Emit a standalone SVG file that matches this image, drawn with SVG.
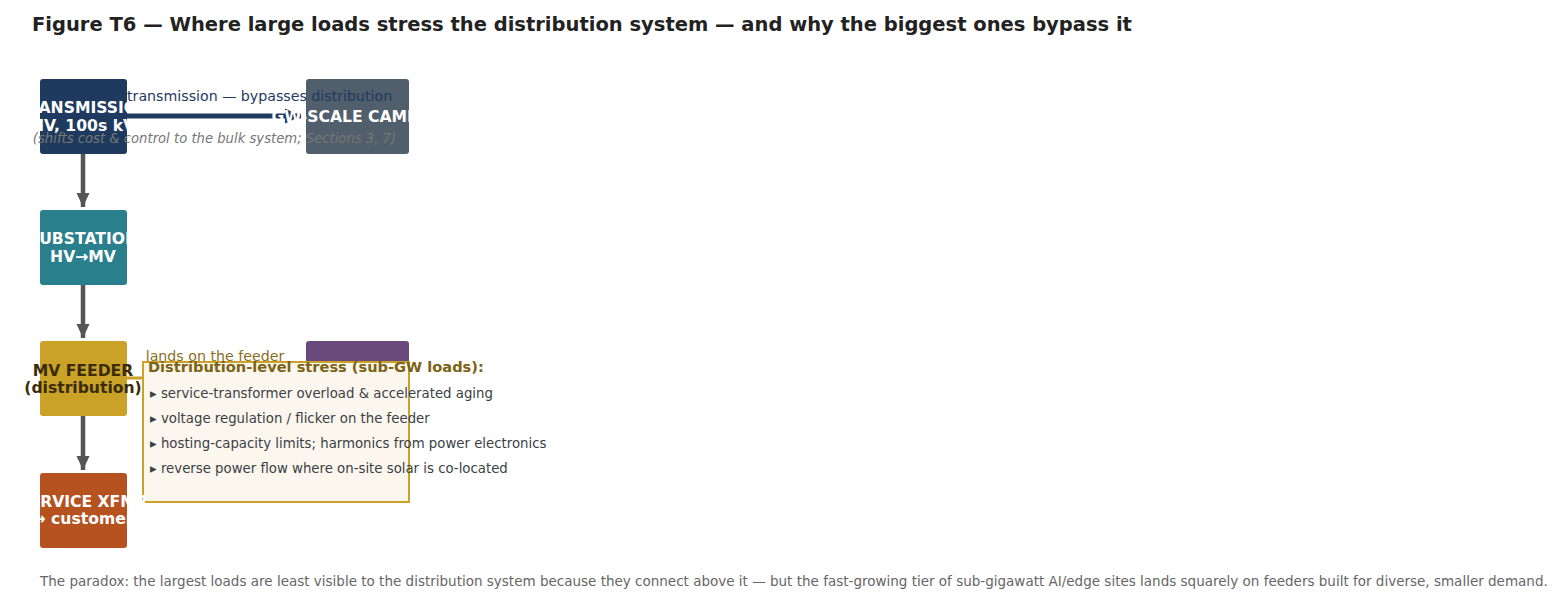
<svg xmlns="http://www.w3.org/2000/svg" width="1568" height="616" viewBox="0 0 1568 616">
<defs>
<style>
text{font-family:"DejaVu Sans","Liberation Sans",sans-serif}
.title{font-size:19.5px;font-weight:bold;fill:#222}
.nt{font-size:15.6px;font-weight:bold;fill:#fff;text-anchor:middle}
.ntd{font-size:15.6px;font-weight:bold;fill:#3a2c08;text-anchor:middle}
.elab{font-size:14.2px}
.it{font-size:13.2px;font-style:italic;fill:#777;text-anchor:middle}
.ct{font-size:14.6px;font-weight:bold;fill:#7d6314}
.bl{font-size:13.3px;fill:#3b3f46}
.foot{font-size:13.5px;fill:#666}
.varrow{stroke:#555;stroke-width:4.5;fill:none}
</style>
<marker id="ah" markerUnits="userSpaceOnUse" markerWidth="16" markerHeight="16" viewBox="0 0 16 16" refX="14" refY="8" orient="auto">
<path d="M0,1.5 L14,8 L0,14.5 Z" fill="#555"/>
</marker>
<marker id="ahn" markerUnits="userSpaceOnUse" markerWidth="18" markerHeight="18" viewBox="0 0 18 18" refX="16" refY="9" orient="auto">
<path d="M0,1.5 L16,9 L0,16.5 Z" fill="#1f3a5f"/>
</marker>
</defs>
<rect width="1568" height="616" fill="#fff"/>
<text class="title" x="32" y="31">Figure T6 — Where large loads stress the distribution system — and why the biggest ones bypass it</text>

<g id="transmission">
<rect x="40" y="79" width="87" height="75" rx="3" fill="#1f3a5f"/>
<text class="nt" x="83" y="112.5">TRANSMISSION</text>
<text class="nt" x="83" y="130.5">HV, 100s kV</text>
</g>
<g id="substation">
<rect x="40" y="210" width="87" height="75" rx="3" fill="#2a7f8d"/>
<text class="nt" x="83" y="243.5">SUBSTATION</text>
<text class="nt" x="83" y="261.5">HV→MV</text>
</g>
<g id="feeder">
<rect x="40" y="341" width="87" height="75" rx="3" fill="#c9a227"/>
<text class="ntd" x="83" y="375.5">MV FEEDER</text>
<text class="ntd" x="83" y="393">(distribution)</text>
</g>
<g id="campus">
<rect x="306" y="79" width="103" height="75" rx="3" fill="#515e6b"/>
</g>
<g id="subgw">
<rect x="306" y="341" width="103" height="75" rx="3" fill="#6a4a7c"/>
</g>

<g id="connectors">
<line class="varrow" x1="83" y1="154" x2="83" y2="207" marker-end="url(#ah)"/>
<line class="varrow" x1="83" y1="285" x2="83" y2="338" marker-end="url(#ah)"/>
<line class="varrow" x1="83" y1="416" x2="83" y2="470" marker-end="url(#ah)"/>
<line x1="127" y1="116" x2="301" y2="116" stroke="#1f3a5f" stroke-width="5" marker-end="url(#ahn)"/>
<text class="elab" x="127" y="101" fill="#1f3a5f">transmission — bypasses distribution</text>
<text class="it" x="214.5" y="143">(shifts cost &amp; control to the bulk system; Sections 3, 7)</text>
<line x1="127" y1="378" x2="306" y2="378" stroke="#c9a227" stroke-width="3"/>
<text class="elab" x="215" y="361" fill="#8b6f1e" text-anchor="middle">lands on the feeder</text>
</g>

<g id="campus-label">
<text class="nt" x="357" y="121.5">GW-SCALE CAMPUS</text>
</g>

<g id="callout">
<rect x="143" y="362" width="266" height="140" fill="#fbf6ee" stroke="#c9a227" stroke-width="2"/>
<text class="ct" x="148" y="372">Distribution-level stress (sub-GW loads):</text>
<text class="bl" x="150" y="397.5">▸ service-transformer overload &amp; accelerated aging</text>
<text class="bl" x="150" y="422.5">▸ voltage regulation / flicker on the feeder</text>
<text class="bl" x="150" y="447.5">▸ hosting-capacity limits; harmonics from power electronics</text>
<text class="bl" x="150" y="472.5">▸ reverse power flow where on-site solar is co-located</text>
</g>

<g id="service">
<rect x="40" y="473" width="87" height="75" rx="3" fill="#b5521f"/>
<text class="nt" x="83" y="506.5">SERVICE XFMR</text>
<text class="nt" x="83" y="524">→ customer</text>
</g>

<text class="foot" x="40" y="586">The paradox: the largest loads are least visible to the distribution system because they connect above it — but the fast-growing tier of sub-gigawatt AI/edge sites lands squarely on feeders built for diverse, smaller demand.</text>
</svg>
